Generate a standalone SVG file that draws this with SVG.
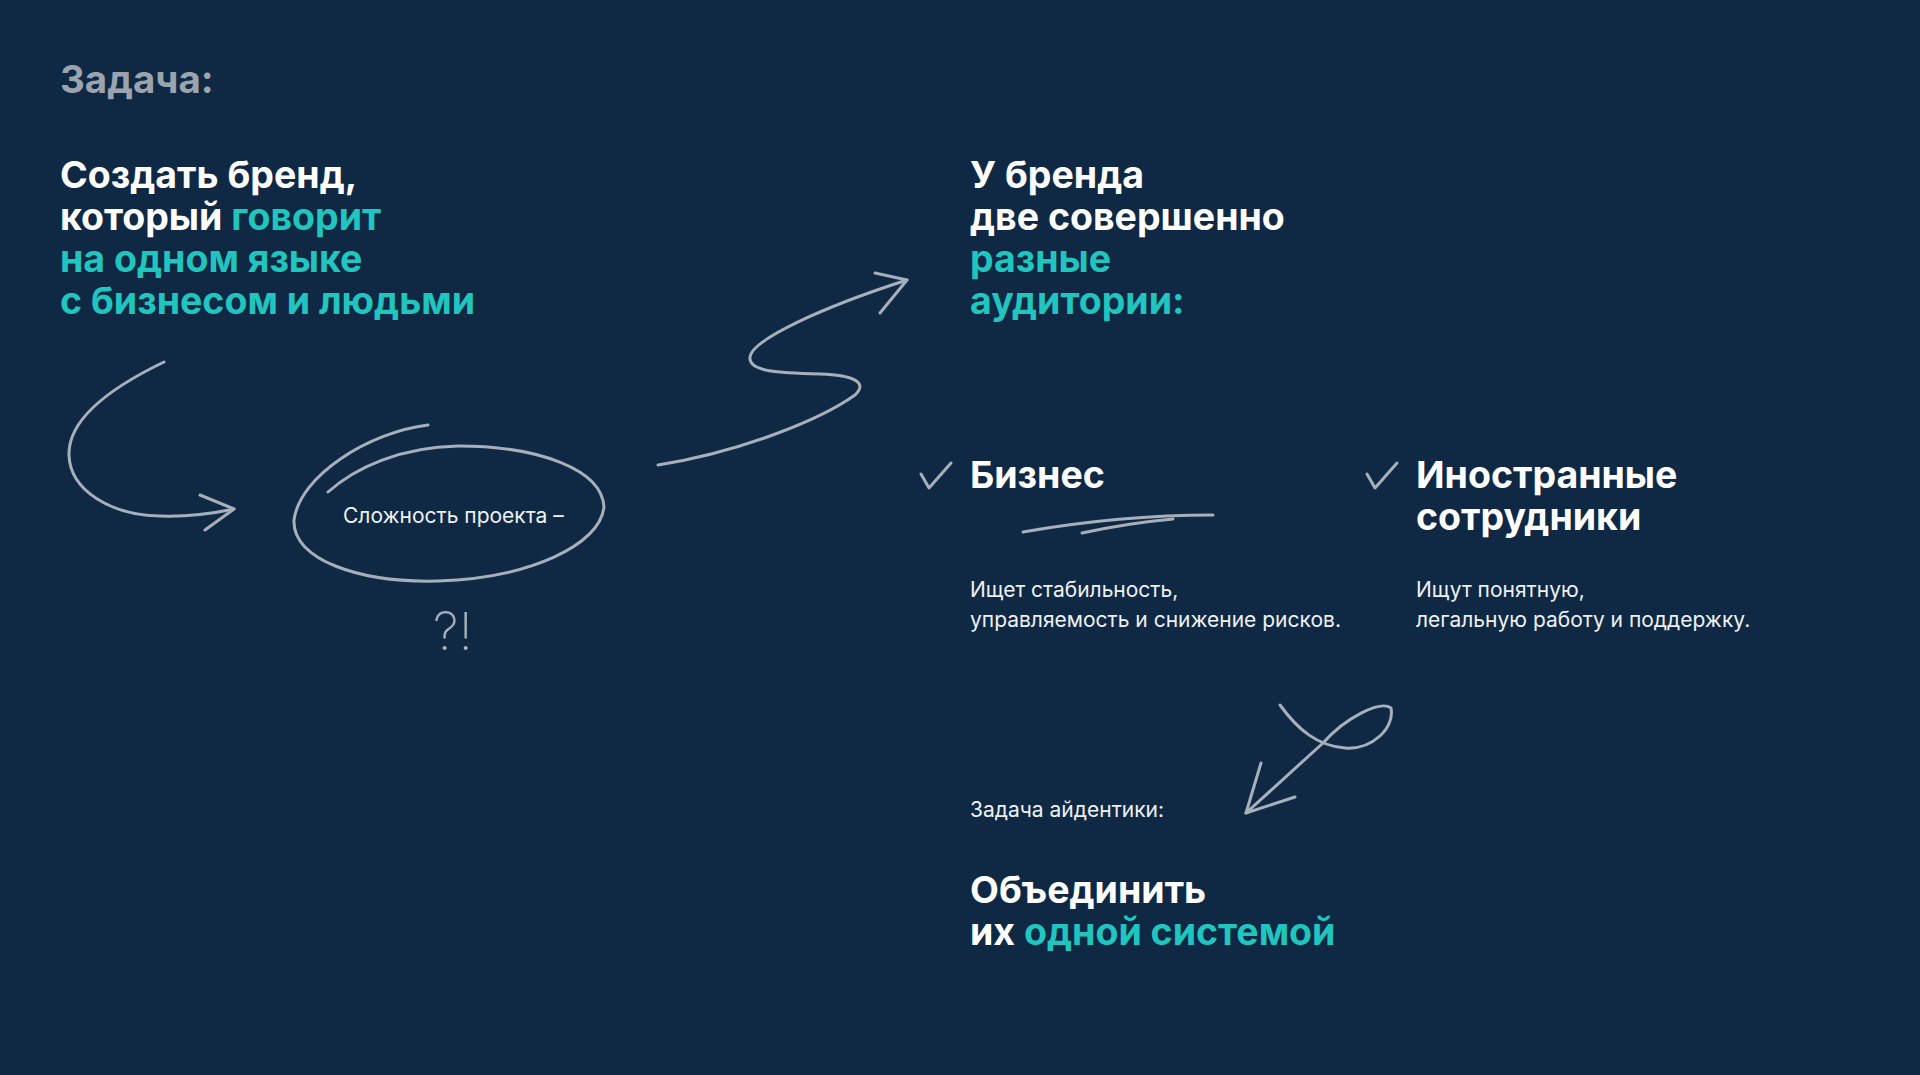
<svg xmlns="http://www.w3.org/2000/svg" width="1920" height="1075" viewBox="0 0 1920 1075">
<style>
.h{font-family:Inter,"Noto Sans",sans-serif;font-weight:700;font-size:37.5px;fill:#ffffff}
.t{fill:#21c5bf}
.g{fill:#9aa3ae}
.b{font-family:Inter,"Noto Sans",sans-serif;font-weight:400;font-size:21px;fill:#eef1f4}
.s{fill:none;stroke:#a7afba;stroke-width:3;stroke-linecap:round;stroke-linejoin:round}
</style>
<rect width="1920" height="1075" fill="#0f2945"/>
<g id="task-label"><text class="h g" x="60" y="93" style="font-size:38.5px">Задача:</text></g>
<g id="goal">
<text class="h" x="60" y="188">Создать бренд,</text>
<text class="h" x="60" y="230">который <tspan class="t">говорит</tspan></text>
<text class="h t" x="60" y="272">на одном языке</text>
<text class="h t" x="60" y="314">с бизнесом и людьми</text>
</g>
<g id="complexity">
<path class="s" d="M428,425 C370,432 300,475 294,520 C292,560 360,583 438,581 C530,578 600,545 604,507 C602,470 540,446 458,446 C400,447 355,468 328,492"/>
<text class="b" x="343" y="523">Сложность проекта –</text>
<text x="433" y="650" style="font-family:Inter,sans-serif;font-weight:200;font-size:52px;fill:#a7afba">?!</text>
</g>
<g id="audiences-title">
<text class="h" x="970" y="188">У бренда</text>
<text class="h" x="970" y="230">две совершенно</text>
<text class="h t" x="970" y="272">разные</text>
<text class="h t" x="970" y="314">аудитории:</text>
</g>
<g id="business">
<path class="s" d="M921,474 L929,488 L951,463"/>
<text class="h" x="970" y="488">Бизнес</text>
<path class="s" d="M1023,532 C1080,522 1150,515 1213,515" stroke-width="2.5"/>
<path class="s" d="M1082,533 C1110,527 1140,522 1173,519" stroke-width="2.5"/>
<text class="b" x="970" y="597">Ищет стабильность,</text>
<text class="b" x="970" y="627">управляемость и снижение рисков.</text>
</g>
<g id="foreign">
<path class="s" d="M1367,474 L1375,488 L1397,463"/>
<text class="h" x="1416" y="488">Иностранные</text>
<text class="h" x="1416" y="530">сотрудники</text>
<text class="b" x="1416" y="597">Ищут понятную,</text>
<text class="b" x="1416" y="627">легальную работу и поддержку.</text>
</g>
<g id="identity">
<text class="b" x="970" y="817">Задача айдентики:</text>
<text class="h" x="970" y="903">Объединить</text>
<text class="h" x="970" y="945">их <tspan class="t">одной системой</tspan></text>
</g>
<g id="connectors">
<path class="s" d="M164,362 C110,388 68,420 69,455 C70,490 110,515 160,516 C190,517 215,513 234,509"/>
<path class="s" d="M200,495 L234,509 L205,530"/>
<path class="s" d="M658,465 C740,452 820,420 855,395 C868,383 855,375 820,374 C780,373 748,372 750,357 C752,340 820,308 907,280"/>
<path class="s" d="M875,273 L907,280 L880,313"/>
<path class="s" d="M1280,705 C1298,730 1318,746 1345,748 C1372,750 1395,728 1391,708 C1380,700 1345,718 1323,743 L1246,813"/>
<path class="s" d="M1261,763 L1246,813 L1295,797"/>
</g>
</svg>
